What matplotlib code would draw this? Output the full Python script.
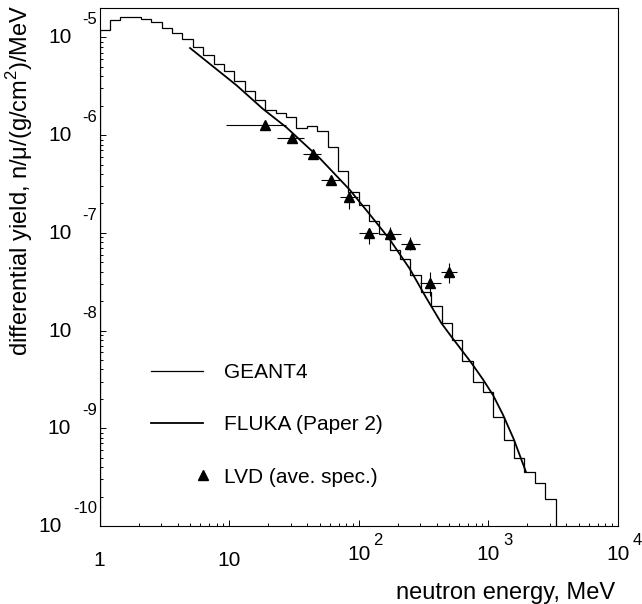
import numpy as np
import matplotlib
matplotlib.use("Agg")
import matplotlib.pyplot as plt
from matplotlib.legend_handler import HandlerLine2D

plt.rcParams['font.family'] = ['Liberation Sans', 'DejaVu Sans']
plt.rcParams['mathtext.fontset'] = 'custom'
plt.rcParams['mathtext.rm'] = 'Liberation Sans'

# GEANT4 histogram: 44 log bins of 0.08 decade from 1 MeV
geant_edges = 10 ** np.linspace(0, 3.52, 45)
geant_vals = [1.20e-5, 1.52e-5, 1.63e-5, 1.60e-5, 1.55e-5, 1.43e-5, 1.25e-5, 1.12e-5,
              9.64e-6, 8.04e-6, 6.61e-6, 5.38e-6, 4.49e-6, 3.54e-6, 2.80e-6, 2.30e-6,
              1.80e-6, 1.68e-6, 1.53e-6, 1.17e-6, 1.25e-6, 1.09e-6, 7.60e-7, 4.32e-7,
              2.63e-7, 1.92e-7, 1.31e-7, 9.77e-8, 6.62e-8, 5.40e-8, 3.67e-8, 2.47e-8,
              1.78e-8, 1.19e-8, 7.93e-9, 4.89e-9, 2.96e-9, 2.33e-9, 1.29e-9, 7.60e-10,
              5.01e-10, 3.53e-10, 2.77e-10, 1.89e-10]

# FLUKA (Paper 2) curve
fluka_e = [5.0, 11.4, 18.2, 27.7, 50.0, 85.3, 121.6, 173.4, 247.7, 333.4,
           435.5, 520, 741, 912, 1089, 1300, 1574, 1950]
fluka_y = [7.78e-6, 3.24e-6, 1.86e-6, 1.20e-6, 5.82e-7, 2.76e-7, 1.55e-7, 8.6e-8,
           4.3e-8, 2.15e-8, 1.19e-8, 8.67e-9, 4.68e-9, 3.16e-9, 2.19e-9, 1.38e-9,
           7.76e-10, 3.63e-10]

# LVD average spectrum
lvd_e = [18.8, 30.8, 44.4, 61.5, 84.2, 120, 176, 248, 353, 498]
lvd_elo = [9.4, 23.4, 37.1, 51.6, 71.2, 101, 145, 214, 300, 433]
lvd_ehi = [27.6, 38.2, 51.6, 71.2, 98.8, 141, 214, 297, 433, 570]
lvd_y = [1.26e-6, 9.3e-7, 6.4e-7, 3.5e-7, 2.3e-7, 9.9e-8, 9.7e-8, 7.7e-8, 3.1e-8, 4.0e-8]
lvd_ylo = [1.18e-6, 8.7e-7, 5.9e-7, 3.2e-7, 1.75e-7, 7.7e-8, 8.8e-8, 6.6e-8, 2.25e-8, 3.05e-8]
lvd_yhi = [1.34e-6, 9.9e-7, 6.9e-7, 3.8e-7, 2.5e-7, 1.13e-7, 1.16e-7, 9.0e-8, 3.95e-8, 4.95e-8]

x_exps = [0, 1, 2, 3, 4]
y_exps = [-5, -6, -7, -8, -9, -10]


class RightMarker(HandlerLine2D):
    # put the legend marker at the right end of the handle, like ROOT does
    def get_xdata(self, legend, xdescent, ydescent, width, height, fontsize):
        x = -xdescent + width
        return [x, x], [x]


fig = plt.figure(figsize=(6.42, 6.04), dpi=100)
ax = fig.add_axes([0.155, 0.1291, 0.8072, 0.8577])
ax.set_xscale('log')
ax.set_yscale('log')
ax.set_xlim(1, 1e4)
ax.set_ylim(1e-10, 2.0e-5)

g4 = ax.stairs(geant_vals, geant_edges, baseline=1e-12, color='black', lw=0.9, label='GEANT4')
fl, = ax.plot(fluka_e, fluka_y, color='black', lw=1.3, label='FLUKA (Paper 2)')

lvd_e_arr = np.array(lvd_e)
lvd_y_arr = np.array(lvd_y)
xerr = [lvd_e_arr - np.array(lvd_elo), np.array(lvd_ehi) - lvd_e_arr]
yerr = [lvd_y_arr - np.array(lvd_ylo), np.array(lvd_yhi) - lvd_y_arr]
eb = ax.errorbar(lvd_e, lvd_y, xerr=xerr, yerr=yerr, fmt='^', color='black',
                 ms=7.5, elinewidth=0.8, capsize=0, label='LVD (ave. spec.)')

for s in ax.spines.values():
    s.set_linewidth(0.8)
ax.tick_params(which='both', direction='in', top=False, right=False,
               labelbottom=False, labelleft=False, width=0.7)
ax.tick_params(which='major', length=4.5)
ax.tick_params(which='minor', length=2.3)

# ROOT style tick labels: "10" with a raised exponent
for e in y_exps:
    ex = ax.annotate(str(e), xy=(0, 10.0 ** e), xycoords=('axes fraction', 'data'),
                     xytext=(-2.5, 17.5), textcoords='offset pixels',
                     ha='right', va='center', fontsize=12, annotation_clip=False)
    ax.annotate('10', xy=(0, 0.5), xycoords=ex, xytext=(-11, -18),
                textcoords='offset pixels', ha='right', va='center', fontsize=15)

for e in x_exps:
    if e < 2:
        ax.annotate('1' if e == 0 else '10', xy=(10.0 ** e, 0),
                    xycoords=('data', 'axes fraction'), xytext=(0, -34),
                    textcoords='offset pixels', ha='center', va='center',
                    fontsize=15, annotation_clip=False)
    else:
        base = ax.annotate('10', xy=(10.0 ** e, 0), xycoords=('data', 'axes fraction'),
                           xytext=(0, -28), textcoords='offset pixels',
                           ha='center', va='center', fontsize=15, annotation_clip=False)
        ax.annotate(str(e), xy=(1, 0.5), xycoords=base, xytext=(3, 14),
                    textcoords='offset pixels', ha='left', va='center', fontsize=12)

fig.text(615 / 642, 1 - 599 / 604, 'neutron energy, MeV', ha='right', va='baseline', fontsize=17)
fig.text(20 / 642, 1 - 5 / 604, r'differential yield, n/μ/(g/cm$^{\mathregular{2}}$)/MeV',
         rotation=90, ha='center', va='top', fontsize=17)

ax.legend([g4, fl, eb[0]], ['GEANT4', 'FLUKA (Paper 2)', 'LVD (ave. spec.)'],
          handler_map={eb[0]: RightMarker()},
          loc='upper left', bbox_to_anchor=(0.0994, 0.315), frameon=False,
          fontsize=15, handlelength=2.48, handletextpad=1.0, labelspacing=1.6,
          borderpad=0, borderaxespad=0)

fig.savefig('out.png', dpi=100)
